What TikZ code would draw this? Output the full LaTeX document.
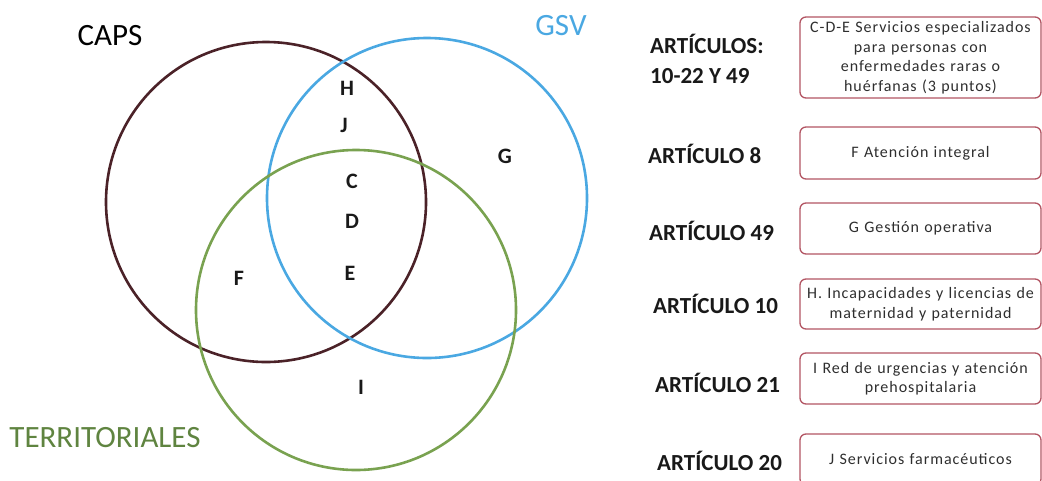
\documentclass[tikz,border=0pt]{standalone}
\usepackage{fontspec}
\setmainfont{Carlito}
\newfontfamily\boxfont[LetterSpace=6]{Carlito}
\definecolor{capsbrown}{HTML}{4B2228}
\definecolor{gsvblue}{HTML}{4AA8E2}
\definecolor{terrgreen}{HTML}{79A250}
\definecolor{terrtext}{HTML}{5F8440}
\definecolor{boxred}{HTML}{B25563}
\definecolor{boxtext}{HTML}{2E2E2E}
\begin{document}
\begin{tikzpicture}[x=1pt,y=-1pt,
  ring/.style={circle, draw, line width=2.6pt, minimum size=320pt, inner sep=0pt},
  setname/.style={font=\fontsize{31}{31}\selectfont},
  region/.style={font=\bfseries\fontsize{22}{22}\selectfont, text=black!90},
  article/.style={anchor=base west, inner sep=0pt, font=\bfseries\fontsize{23}{23}\selectfont, text=black!90},
  itembox/.style={draw=boxred, line width=1.3pt, rounded corners=6pt,
    minimum width=241pt, text width=238pt, inner sep=0pt, align=center,
    font=\boxfont\fontsize{16}{19.5}\selectfont, text=boxtext}]
\useasboundingbox (0,0) rectangle (1042,480);
\clip (0,0) rectangle (1042,480);

% the three sets
\node[ring, draw=capsbrown] (caps) at (266,202) {};
\node[ring, draw=gsvblue] (gsv) at (427,198) {};
\node[ring, draw=terrgreen] (terr) at (356,310) {};

% set names
\node[setname, text=black] (capsname) at (110,36) {CAPS};
\node[setname, text=gsvblue] (gsvname) at (561,26) {GSV};
\node[setname, text=terrtext] (terrname) at (105,438) {TERRITORIALES};

% letters placed in the regions
\node[region] (rH) at (347,88) {H};
\node[region] (rJ) at (344,125) {J};
\node[region] (rC) at (352,181) {C};
\node[region] (rD) at (352,221) {D};
\node[region] (rE) at (350,273) {E};
\node[region] (rF) at (239,278) {F};
\node[region] (rG) at (505,156) {G};
\node[region] (rI) at (361,387) {I};

% article references
\node[article] (a1) at (650,53) {ARTÍCULOS:};
\node[article] (a1b) at (650,83) {10-22 Y 49};
\node[article] (a2) at (648,163) {ARTÍCULO 8};
\node[article] (a3) at (649,240) {ARTÍCULO 49};
\node[article] (a4) at (653,313) {ARTÍCULO 10};
\node[article] (a5) at (655,392) {ARTÍCULO 21};
\node[article] (a6) at (657,470) {ARTÍCULO 20};

% descriptions
\node[itembox, minimum height=81pt] (b1) at (920.5,57.5)
  {C-D-E Servicios especializados\\ para personas con\\ enfermedades raras o\\ huérfanas (3 puntos)};
\node[itembox, minimum height=52pt] (b2) at (920.5,153) {F Atención integral};
\node[itembox, minimum height=51pt] (b3) at (920.5,228.5) {G Gestión operativa};
\node[itembox, minimum height=50pt] (b4) at (920.5,304)
  {H. Incapacidades y licencias de\\ maternidad y paternidad};
\node[itembox, minimum height=51pt] (b5) at (920.5,378.5)
  {I Red de urgencias y atención\\ prehospitalaria};
\node[itembox, minimum height=51pt] (b6) at (920.5,459.5) {J Servicios farmacéuticos};
\end{tikzpicture}
\end{document}
